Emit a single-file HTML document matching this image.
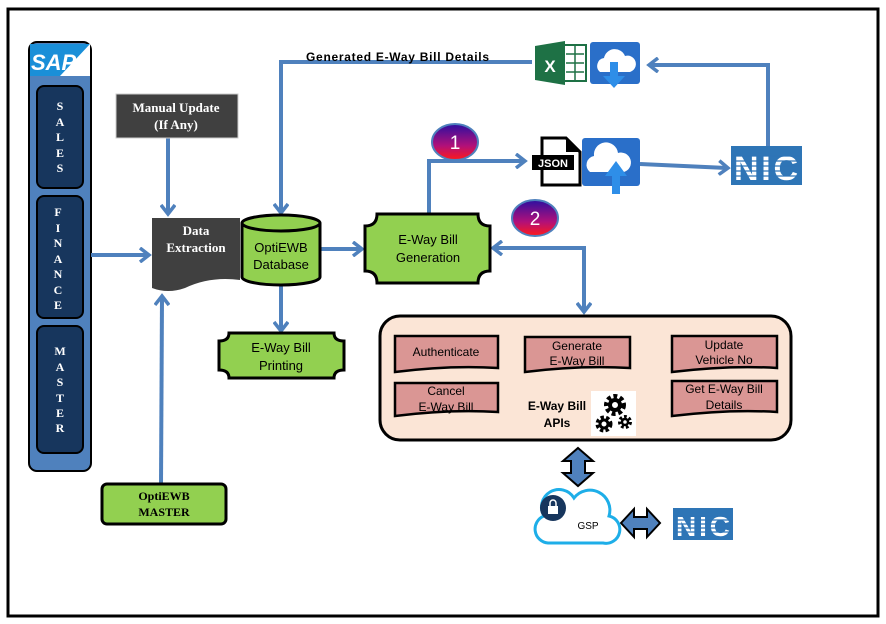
<!DOCTYPE html>
<html><head><meta charset="utf-8"><style>
html,body{margin:0;padding:0;background:#fff}
svg{display:block}
.s{font-family:"Liberation Serif",serif;font-weight:bold}
.c{font-family:"Liberation Sans",sans-serif}
</style></head><body>
<svg width="886" height="624" viewBox="0 0 886 624" xmlns="http://www.w3.org/2000/svg">
<defs>
<marker id="a" markerWidth="14" markerHeight="16" refX="10" refY="8" orient="auto" markerUnits="userSpaceOnUse">
<path d="M2,1 L11,8 L2,15" fill="none" stroke="#4f81bd" stroke-width="3.5"/></marker>
<linearGradient id="g" x1="0" y1="0" x2="0" y2="1"><stop offset="0" stop-color="#2d0fa0"/><stop offset="0.6" stop-color="#b0107a"/><stop offset="1" stop-color="#ff1a1a"/></linearGradient>
</defs>
<rect x="8" y="9" width="870" height="607" fill="#fff" stroke="#000" stroke-width="3"/>
<rect x="29" y="42" width="62" height="429" rx="8" fill="#4f81bd" stroke="#000" stroke-width="2"/>
<rect x="30" y="44" width="60" height="32" fill="#fff"/>
<path d="M30,44 L90,44 L60,76 L30,76Z" fill="#1a8fd8"/>
<text x="31" y="70" class="c" font-weight="bold" font-size="22" fill="#fff" font-style="italic">SAP</text>
<rect x="37" y="86" width="46" height="102" rx="7" fill="#17365d" stroke="#000" stroke-width="2"/>
<rect x="37" y="196" width="46" height="122" rx="7" fill="#17365d" stroke="#000" stroke-width="2"/>
<rect x="37" y="326" width="46" height="127" rx="7" fill="#17365d" stroke="#000" stroke-width="2"/>
<g class="s" font-size="12" fill="#fff" text-anchor="middle">
<text x="60" y="110">S</text><text x="60" y="126">A</text><text x="60" y="141">L</text><text x="60" y="157">E</text><text x="60" y="172">S</text>
<text x="58" y="216">F</text><text x="58" y="232">I</text><text x="58" y="247">N</text><text x="58" y="263">A</text><text x="58" y="278">N</text><text x="58" y="294">C</text><text x="58" y="309">E</text>
<text x="60" y="355">M</text><text x="60" y="371">A</text><text x="60" y="386">S</text><text x="60" y="402">T</text><text x="60" y="417">E</text><text x="60" y="432">R</text>
</g>
<g fill="none" stroke="#4f81bd" stroke-width="4">
<line x1="91" y1="255" x2="148" y2="255" marker-end="url(#a)"/>
<line x1="168" y1="138" x2="168" y2="213" marker-end="url(#a)"/>
<line x1="161" y1="484" x2="162" y2="297" marker-end="url(#a)"/>
<polyline points="532,62 281,62 281,212" marker-end="url(#a)"/>
<line x1="320" y1="249" x2="361" y2="249" marker-end="url(#a)"/>
<line x1="281" y1="285" x2="281" y2="330" marker-end="url(#a)"/>
<polyline points="429,214 429,161 524,161" marker-end="url(#a)"/>
<line x1="640" y1="164" x2="727" y2="168" marker-end="url(#a)"/>
<polyline points="768,148 768,65 650,65" marker-end="url(#a)"/>
<polyline points="584,312 584,248 494,248" marker-end="url(#a)"/>
<line x1="584" y1="270" x2="584" y2="311" marker-end="url(#a)"/>
</g>
<rect x="116" y="94" width="122" height="44" fill="#404040" stroke="#ccc"/>
<text x="176" y="112" class="s" font-size="13" fill="#fff" text-anchor="middle">Manual Update</text>
<text x="176" y="129" class="s" font-size="13" fill="#fff" text-anchor="middle">(If Any)</text>
<path d="M152,218 L240,218 L240,280 Q210,276 185,288 Q168,294 152,288Z" fill="#404040"/>
<text x="196" y="235" class="s" font-size="13" fill="#fff" text-anchor="middle">Data</text>
<text x="196" y="252" class="s" font-size="13" fill="#fff" text-anchor="middle">Extraction</text>
<path d="M242,223 L242,277 A39,8 0 0 0 320,277 L320,223" fill="#92d050" stroke="#000" stroke-width="3"/>
<ellipse cx="281" cy="223" rx="39" ry="8" fill="#92d050" stroke="#000" stroke-width="3"/>
<text x="281" y="252" class="c" font-size="13" text-anchor="middle">OptiEWB</text>
<text x="281" y="269" class="c" font-size="13" text-anchor="middle">Database</text>
<path d="M377,214 L478,214 Q478,226 490,226 L490,271 Q478,271 478,283 L377,283 Q377,271 365,271 L365,226 Q377,226 377,214Z" fill="#92d050" stroke="#000" stroke-width="3"/>
<text x="428" y="244" class="c" font-size="13" text-anchor="middle">E-Way Bill</text>
<text x="428" y="262" class="c" font-size="13" text-anchor="middle">Generation</text>
<path d="M229,333 L334,333 Q334,341 344,341 L344,370 Q334,370 334,378 L229,378 Q229,370 219,370 L219,341 Q229,341 229,333Z" fill="#92d050" stroke="#000" stroke-width="3"/>
<text x="281" y="352" class="c" font-size="13" text-anchor="middle">E-Way Bill</text>
<text x="281" y="370" class="c" font-size="13" text-anchor="middle">Printing</text>
<rect x="102" y="484" width="124" height="40" rx="5" fill="#92d050" stroke="#000" stroke-width="3"/>
<text x="164" y="500" class="s" font-size="12" text-anchor="middle">OptiEWB</text>
<text x="164" y="516" class="s" font-size="12" text-anchor="middle">MASTER</text>
<text x="306" y="61" class="c" font-weight="bold" font-size="12" textLength="183">Generated E-Way Bill Details</text>
<rect x="550" y="45" width="36" height="36" fill="#fff" stroke="#1e7145" stroke-width="2"/>
<g stroke="#1e7145" stroke-width="1.5"><line x1="566" y1="54" x2="584" y2="54"/><line x1="566" y1="63" x2="584" y2="63"/><line x1="566" y1="72" x2="584" y2="72"/><line x1="575" y1="46" x2="575" y2="80"/></g>
<path d="M535,46 L565,41 L565,85 L535,80Z" fill="#1e7145"/>
<text x="550" y="72" class="c" font-weight="bold" font-size="17" fill="#fff" text-anchor="middle">X</text>
<rect x="590" y="42" width="50" height="42" rx="3" fill="#2a6fc9"/>
<path d="M600,72 a8,8 0 0 1 4,-14 a11,11 0 0 1 21,-2 a8,8 0 0 1 5,16Z" fill="#fff"/>
<path d="M610,62 L618,62 L618,76 L625,76 L614,88 L603,76 L610,76Z" fill="#2e8ee8"/>
<ellipse cx="455" cy="142" rx="23" ry="18" fill="url(#g)" stroke="#4f81bd" stroke-width="2"/>
<text x="455" y="149" class="c" font-size="19" fill="#fff" text-anchor="middle">1</text>
<ellipse cx="535" cy="218" rx="23" ry="18" fill="url(#g)" stroke="#4f81bd" stroke-width="2"/>
<text x="535" y="225" class="c" font-size="19" fill="#fff" text-anchor="middle">2</text>
<path d="M542,138 L566,138 L580,152 L580,185 L542,185Z" fill="#fff" stroke="#000" stroke-width="3"/>
<path d="M566,138 L566,152 L580,152" fill="#000"/>
<rect x="532" y="155" width="42" height="15" fill="#000"/>
<text x="553" y="167" class="c" font-weight="bold" font-size="11" fill="#fff" text-anchor="middle">JSON</text>
<rect x="582" y="138" width="58" height="48" rx="3" fill="#2a6fc9"/>
<path d="M590,172 a9,9 0 0 1 4,-16 a12,12 0 0 1 24,-3 a9,9 0 0 1 6,19Z" fill="#fff"/>
<path d="M612,194 L620,194 L620,176 L627,176 L616,161 L605,176 L612,176Z" fill="#2e8ee8"/>
<rect x="731" y="146" width="71" height="39" fill="#2e75b6"/>
<text x="766" y="180" class="c" font-weight="bold" font-size="34" fill="#fff" text-anchor="middle" textLength="64">NIC</text>
<g stroke="#2e75b6" stroke-width="1.3"><line x1="733" y1="156" x2="800" y2="156"/><line x1="733" y1="161" x2="800" y2="161"/><line x1="733" y1="166" x2="800" y2="166"/><line x1="733" y1="171" x2="800" y2="171"/><line x1="733" y1="176" x2="800" y2="176"/></g>
<rect x="380" y="316" width="411" height="124" rx="20" fill="#fbe5d6" stroke="#000" stroke-width="3"/>
<g fill="#da9694" stroke="#000" stroke-width="2.5">
<path d="M395,336 L498,336 L498,368 Q450,365 395,372Z"/>
<path d="M525,337 L630,337 L630,368 Q580,365 525,372Z"/>
<path d="M672,336 L777,336 L777,368 Q730,365 672,372Z"/>
<path d="M395,383 L498,383 L498,412 Q450,409 395,416Z"/>
<path d="M672,381 L777,381 L777,412 Q730,409 672,416Z"/>
</g>
<g class="c" font-size="12" text-anchor="middle">
<text x="446" y="356">Authenticate</text>
<text x="577" y="350">Generate</text><text x="577" y="365">E-Way Bill</text>
<text x="724" y="349">Update</text><text x="724" y="364">Vehicle No</text>
<text x="446" y="395">Cancel</text><text x="446" y="411">E-Way Bill</text>
<text x="724" y="393">Get E-Way Bill</text><text x="724" y="409">Details</text>
<text x="557" y="410" font-weight="bold">E-Way Bill</text>
<text x="557" y="427" font-weight="bold">APIs</text>
</g>
<rect x="591" y="391" width="45" height="45" fill="#fff"/>
<g fill="none" stroke="#000">
<circle cx="615" cy="405" r="8" stroke-width="6" stroke-dasharray="3.5 2.5"/>
<circle cx="615" cy="405" r="5" stroke-width="4"/>
<circle cx="604" cy="424" r="6" stroke-width="5" stroke-dasharray="3 2"/>
<circle cx="604" cy="424" r="4" stroke-width="3"/>
<circle cx="625" cy="422" r="5" stroke-width="4" stroke-dasharray="2.5 2"/>
<circle cx="625" cy="422" r="3" stroke-width="2.5"/>
</g>
<path d="M578,448 L593,461 L585,461 L585,473 L593,473 L578,486 L563,473 L571,473 L571,461 L563,461Z" fill="#4f81bd" stroke="#000" stroke-width="2"/>
<path d="M621,523 L634,509 L634,517 L647,517 L647,509 L660,523 L647,537 L647,529 L634,529 L634,537Z" fill="#4f81bd" stroke="#000" stroke-width="2"/>
<path d="M548,543 a14,14 0 0 1 -4,-27 a17,17 0 0 1 30,-18 a20,20 0 0 1 35,18 a13,13 0 0 1 -6,27Z" fill="#fff" stroke="#1eaee8" stroke-width="3"/>
<circle cx="553" cy="508" r="13" fill="#17365d"/>
<rect x="548" y="506" width="10" height="8" fill="#fff"/>
<path d="M550,506 v-3 a3,3 0 0 1 6,0 v3" fill="none" stroke="#fff" stroke-width="1.5"/>
<text x="588" y="529" class="c" font-size="10" text-anchor="middle">GSP</text>
<rect x="673" y="508" width="60" height="32" fill="#2e75b6"/>
<text x="703" y="536" class="c" font-weight="bold" font-size="28" fill="#fff" text-anchor="middle" textLength="54">NIC</text>
<g stroke="#2e75b6" stroke-width="1.2"><line x1="675" y1="516" x2="731" y2="516"/><line x1="675" y1="520" x2="731" y2="520"/><line x1="675" y1="524" x2="731" y2="524"/><line x1="675" y1="528" x2="731" y2="528"/><line x1="675" y1="532" x2="731" y2="532"/></g>
</svg>
</body></html>
